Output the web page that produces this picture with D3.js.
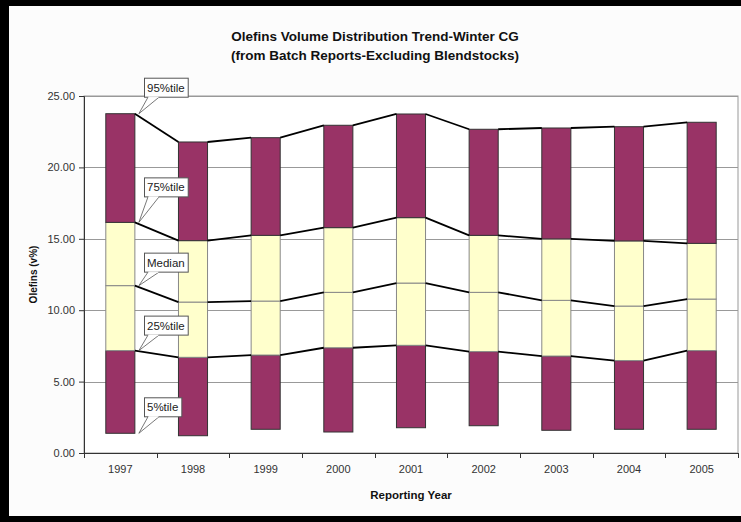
<!DOCTYPE html>
<html>
<head>
<meta charset="utf-8">
<script src="https://cdn.jsdelivr.net/npm/d3@7"></script>
<style>
  html, body { margin: 0; padding: 0; background: #000; }
  svg { display: block; font-family: Arial, "Liberation Sans", sans-serif; }
</style>
</head>
<body>
<svg id="chart" width="741" height="522"></svg>
<script>
// ---- data ----
const years   = ['1997','1998','1999','2000','2001','2002','2003','2004','2005'];
const p5      = [1.38, 1.21, 1.66, 1.47, 1.77, 1.91, 1.59, 1.66, 1.66];
const p25     = [7.17, 6.70, 6.86, 7.37, 7.54, 7.10, 6.79, 6.47, 7.17];
const median  = [11.72, 10.57, 10.64, 11.25, 11.90, 11.25, 10.69, 10.29, 10.78];
const p75     = [16.15, 14.87, 15.24, 15.78, 16.48, 15.24, 14.99, 14.85, 14.68];
const p95     = [23.76, 21.78, 22.08, 22.95, 23.74, 22.67, 22.76, 22.85, 23.16];
const yTicks  = [0, 5, 10, 15, 20, 25];
const calloutLabels = ['95%tile', '75%tile', 'Median', '25%tile', '5%tile'];

// ---- layout ----
const W = 741, H = 522;
const plot = {left: 84, right: 738, top: 96, bottom: 453};
const calloutGap = [17, 26, 14, 16, 17];
const maroon = '#993366', cream = '#FFFFCC';

const svg = d3.select('#chart');
// frame
svg.append('rect').attr('x', 0).attr('y', 0).attr('width', W).attr('height', H).attr('fill', '#000');
svg.append('rect').attr('x', 9).attr('y', 6).attr('width', W - 9).attr('height', 510).attr('fill', '#fcfcfc');

const x = d3.scaleBand().domain(years).range([plot.left, plot.right]).paddingInner(0.6).paddingOuter(0.3);
const y = d3.scaleLinear().domain([0, 25]).range([plot.bottom, plot.top]);

// plot area
svg.append('rect').attr('x', plot.left).attr('y', plot.top)
  .attr('width', plot.right - plot.left).attr('height', plot.bottom - plot.top)
  .attr('fill', '#ffffff').attr('stroke', '#999').attr('stroke-width', 1);

// gridlines
svg.append('g').selectAll('line').data(yTicks).join('line')
  .attr('x1', plot.left).attr('x2', plot.right)
  .attr('y1', d => Math.round(y(d)) + 0.5).attr('y2', d => Math.round(y(d)) + 0.5)
  .attr('stroke', '#999').attr('stroke-width', 1);

// stacked segments
const segs = [];
years.forEach((yr, i) => {
  segs.push({yr, lo: p5[i], hi: p25[i], fill: maroon, stroke: '#333'});
  segs.push({yr, lo: p25[i], hi: median[i], fill: cream, stroke: '#888'});
  segs.push({yr, lo: median[i], hi: p75[i], fill: cream, stroke: '#888'});
  segs.push({yr, lo: p75[i], hi: p95[i], fill: maroon, stroke: '#333'});
});
svg.append('g').selectAll('rect').data(segs).join('rect')
  .attr('x', d => x(d.yr)).attr('width', x.bandwidth())
  .attr('y', d => y(d.hi)).attr('height', d => y(d.lo) - y(d.hi))
  .attr('fill', d => d.fill).attr('stroke', d => d.stroke).attr('stroke-width', 1);

// series lines
const levels = [p25, median, p75, p95];
const lineG = svg.append('g');
levels.forEach(arr => {
  for (let i = 0; i < years.length - 1; i++) {
    lineG.append('line')
      .attr('x1', x(years[i]) + x.bandwidth()).attr('y1', y(arr[i]))
      .attr('x2', x(years[i + 1])).attr('y2', y(arr[i + 1]))
      .attr('stroke', '#000').attr('stroke-width', 1.8);
  }
});

// y axis
const yAxis = svg.append('g').attr('transform', `translate(${plot.left},0)`)
  .call(d3.axisLeft(y).tickValues(yTicks).tickFormat(d3.format('.2f')).tickSize(5).tickPadding(4));
yAxis.select('.domain').attr('stroke', '#333');
yAxis.selectAll('.tick line').attr('stroke', '#333');
yAxis.selectAll('text').attr('font-size', 11).attr('fill', '#333').attr('font-family', 'Arial, Liberation Sans, sans-serif');

// x axis
const xAxis = svg.append('g').attr('transform', `translate(0,${plot.bottom})`)
  .call(d3.axisBottom(x).tickSize(0).tickPadding(12));
xAxis.select('.domain').remove();
xAxis.selectAll('text').attr('font-size', 11).attr('fill', '#333').attr('font-family', 'Arial, Liberation Sans, sans-serif');
svg.append('line').attr('x1', plot.left).attr('x2', plot.right)
  .attr('y1', plot.bottom + 0.5).attr('y2', plot.bottom + 0.5).attr('stroke', '#333');
const bounds = years.map(yr => x(yr) - x.step() * 0.3).concat([plot.right]);
svg.append('g').selectAll('line').data(bounds).join('line')
  .attr('x1', d => Math.round(d) + 0.5).attr('x2', d => Math.round(d) + 0.5)
  .attr('y1', plot.bottom).attr('y2', plot.bottom + 5).attr('stroke', '#333');

// titles
svg.append('text').attr('x', 375).attr('y', 41).attr('text-anchor', 'middle')
  .attr('font-size', 13.5).attr('font-weight', 'bold').attr('fill', '#111')
  .text('Olefins Volume Distribution Trend-Winter CG');
svg.append('text').attr('x', 375).attr('y', 60).attr('text-anchor', 'middle')
  .attr('font-size', 13.5).attr('font-weight', 'bold').attr('fill', '#111')
  .text('(from Batch Reports-Excluding Blendstocks)');
svg.append('text').attr('x', (plot.left + plot.right) / 2).attr('y', 499).attr('text-anchor', 'middle')
  .attr('font-size', 11.5).attr('font-weight', 'bold').attr('fill', '#111')
  .text('Reporting Year');
svg.append('text').attr('transform', `translate(37,${(plot.top + plot.bottom) / 2}) rotate(-90)`)
  .attr('text-anchor', 'middle').attr('font-size', 10).attr('font-weight', 'bold').attr('fill', '#111')
  .text('Olefins (v%)');

// callouts
const calloutVals = [p95[0], p75[0], median[0], p25[0], p5[0]];
const tipX = x(years[0]) + x.bandwidth() + 4;
const cg = svg.append('g');
calloutLabels.forEach((lab, i) => {
  const tipY = y(calloutVals[i]);
  const boxBottom = tipY - calloutGap[i];
  const boxH = 19, bx = 144;
  const g = cg.append('g');
  const t = g.append('text').attr('x', bx + 3).attr('y', boxBottom - 5)
    .attr('font-size', 11.5).attr('fill', '#222').text(lab);
  const tw = t.node().getComputedTextLength();
  g.insert('rect', 'text').attr('x', bx + 0.5).attr('y', boxBottom - boxH + 0.5)
    .attr('width', tw + 6).attr('height', boxH).attr('fill', '#fff').attr('stroke', '#555');
  g.insert('path', 'text')
    .attr('d', `M${bx + 4},${boxBottom + 0.5} L${tipX},${tipY} L${bx + 15},${boxBottom + 0.5}`)
    .attr('fill', '#fff').attr('stroke', '#555').attr('stroke-width', 0.8);
  g.insert('line', 'text').attr('x1', bx + 4.5).attr('x2', bx + 14.5)
    .attr('y1', boxBottom + 0.5).attr('y2', boxBottom + 0.5).attr('stroke', '#fff').attr('stroke-width', 1.2);
});
</script>
</body>
</html>
